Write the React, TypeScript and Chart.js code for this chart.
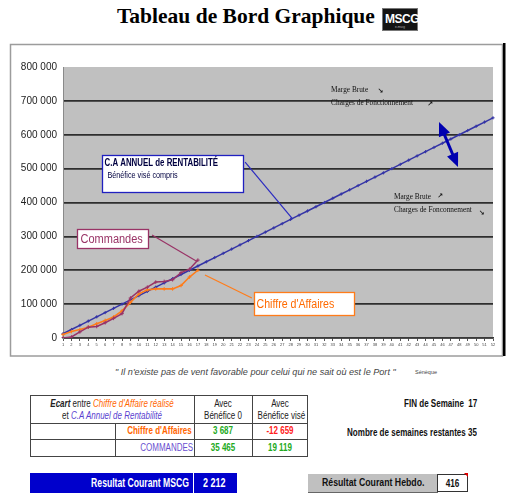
import React, { useEffect, useRef } from 'react';
import { Chart, registerables } from 'chart.js';

Chart.register(...registerables);

// ---------- data ----------
const weeks = ['1','2','3','4','5','6','7','8','9','10','11','12','13','14','15','16','17','18','19','20','21','22','23','24','25','26','27','28','29','30','31','32','33','34','35','36','37','38','39','40','41','42','43','44','45','46','47','48','49','50','51','52'];

const caAnnuelRentabilite = [12500, 25000, 37500, 50000, 62500, 75000, 87500, 100000, 112500, 125000, 137500, 150000, 162500, 175000, 187500, 200000, 212500, 225000, 237500, 250000, 262500, 275000, 287500, 300000, 312500, 325000, 337500, 350000, 362500, 375000, 387500, 400000, 412500, 425000, 437500, 450000, 462500, 475000, 487500, 500000, 512500, 525000, 537500, 550000, 562500, 575000, 587500, 600000, 612500, 625000, 637500, 650000];

const chiffreAffaires = [10000, 19000, 25000, 32000, 42000, 52000, 62000, 80000, 105000, 130000, 142000, 145000, 145000, 145000, 155000, 180000, 200000];

const commandes = [0, 3000, 18000, 32000, 34000, 45000, 58000, 72000, 118000, 138000, 150000, 165000, 167000, 172000, 193000, 203000, 230000];

const yTickLabels = ['0', '100 000', '200 000', '300 000', '400 000', '500 000', '600 000', '700 000', '800 000'];

const ecartCA = ['3 687', '-12 659'];
const ecartCommandes = ['35 465', '19 119'];
const finSemaine = '17';
const semainesRestantes = '35';
const resultatMSCG = '2 212';
const resultatHebdo = '416';

// ---------- fonts ----------
const SANS = '"Liberation Sans", Arial, sans-serif';
const SERIF = '"Liberation Serif", "Times New Roman", serif';

// ---------- plugins ----------
const framePlugin = {
  id: 'frame',
  beforeDraw(chart: any) {
    const { ctx, chartArea: a, width, height } = chart;
    ctx.save();
    ctx.fillStyle = '#ffffff';
    ctx.fillRect(0, 0, width, height);
    ctx.strokeStyle = '#9c9c9c';
    ctx.lineWidth = 1.5;
    ctx.strokeRect(2.5, 2.5, 492, 311.5);
    ctx.fillStyle = '#000000';
    ctx.fillRect(495, 1, 2.5, 313);
    ctx.fillStyle = '#c0c0c0';
    ctx.fillRect(a.left, a.top, a.right - a.left, a.bottom - a.top);
    ctx.restore();
  },
};

function arrowHead(ctx: any, x1: number, y1: number, x2: number, y2: number, len: number, w: number) {
  const ang = Math.atan2(y2 - y1, x2 - x1);
  ctx.beginPath();
  ctx.moveTo(x2, y2);
  ctx.lineTo(x2 - len * Math.cos(ang) + (w / 2) * Math.sin(ang), y2 - len * Math.sin(ang) - (w / 2) * Math.cos(ang));
  ctx.lineTo(x2 - len * Math.cos(ang) - (w / 2) * Math.sin(ang), y2 - len * Math.sin(ang) + (w / 2) * Math.cos(ang));
  ctx.closePath();
  ctx.fill();
}

const annotationPlugin = {
  id: 'annotations',
  afterDraw(chart: any) {
    const { ctx } = chart;
    const xs = chart.scales.x;
    const ys = chart.scales.y;
    const X = (w: number) => xs.getPixelForValue(w - 1);
    const Y = (v: number) => ys.getPixelForValue(v);
    ctx.save();

    const line = (w1: number, v1: number, w2: number, v2: number, color: string, lw: number) => {
      ctx.strokeStyle = color;
      ctx.lineWidth = lw;
      ctx.beginPath();
      ctx.moveTo(X(w1), Y(v1));
      ctx.lineTo(X(w2), Y(v2));
      ctx.stroke();
    };
    const box = (w1: number, w2: number, vTop: number, vBot: number, color: string) => {
      const x1 = Math.round(X(w1)) + 0.5, x2 = Math.round(X(w2)) + 0.5;
      const y1 = Math.round(Y(vTop)) + 0.5, y2 = Math.round(Y(vBot)) + 0.5;
      ctx.fillStyle = '#ffffff';
      ctx.fillRect(x1, y1, x2 - x1, y2 - y1);
      ctx.strokeStyle = color;
      ctx.lineWidth = 1.3;
      ctx.strokeRect(x1, y1, x2 - x1, y2 - y1);
      return { x1, x2, y1, y2 };
    };
    const sText = (s: string, x: number, y: number, font: string, color: string, sx: number) => {
      ctx.save();
      ctx.translate(x, y);
      ctx.scale(sx, 1);
      ctx.font = font;
      ctx.fillStyle = color;
      ctx.textAlign = 'left';
      ctx.textBaseline = 'middle';
      ctx.fillText(s, 0, 0);
      ctx.restore();
    };
    const text = (s: string, w: number, v: number, font: string, color: string, sx = 1) =>
      sText(s, X(w), Y(v), font, color, sx);

    // C.A annuel de rentabilité
    line(22.6, 519000, 28.2, 352500, '#2b2bc0', 1.2);
    const b1 = box(5.6, 22.35, 540000, 431000, '#2020c0');
    sText('C.A ANNUEL de RENTABILITÉ', b1.x1 + 2, b1.y1 + 8, `bold 10.5px ${SANS}`, '#000040', 0.75);
    sText('Bénéfice visé compris', b1.x1 + 5, b1.y1 + 20, `9.5px ${SANS}`, '#000040', 0.76);

    // Commandes
    line(11.56, 304000, 16.9, 226000, '#993366', 1.2);
    const b2 = box(2.66, 11.08, 321000, 265000, '#993366');
    sText('Commandes', b2.x1 + 3, (b2.y1 + b2.y2) / 2 + 0.5, `12.5px ${SANS}`, '#993366', 0.88);

    // Chiffre d'Affaires
    line(17.84, 186000, 23.4, 118000, '#ff7c1a', 1.2);
    const b3 = box(23.66, 35.5, 136000, 68000, '#ff7c1a');
    sText("Chiffre d'Affaires", b3.x1 + 2, (b3.y1 + b3.y2) / 2 + 0.5, `12.5px ${SANS}`, '#ff6a00', 0.85);

    // Marge brute / charges texts
    const f = `8.5px ${SERIF}`;
    text('Marge Brute', 32.8, 732000, f, '#111', 0.86);
    text('Charges de Fonctionnement', 32.8, 693500, f, '#111', 0.86);
    text('↘', 38.3, 729000, `bold 7px "DejaVu Sans"`, '#111');
    text('↗', 44.2, 689000, `bold 7px "DejaVu Sans"`, '#111');
    text('Marge Brute', 40.26, 416000, f, '#111', 0.86);
    text('Charges de Fonconnement', 40.26, 378000, f, '#111', 0.86);
    text('↗', 45.4, 419000, `bold 7px "DejaVu Sans"`, '#111');
    text('↘', 50.3, 369000, `bold 7px "DejaVu Sans"`, '#111');

    // double arrow
    const ax1 = X(45.6), ay1 = Y(637600), ax2 = X(47.85), ay2 = Y(504800);
    ctx.strokeStyle = '#0000b0';
    ctx.fillStyle = '#0000b0';
    ctx.lineWidth = 3;
    ctx.beginPath();
    ctx.moveTo(ax1 + (ax2 - ax1) * 0.15, ay1 + (ay2 - ay1) * 0.15);
    ctx.lineTo(ax1 + (ax2 - ax1) * 0.85, ay1 + (ay2 - ay1) * 0.85);
    ctx.stroke();
    arrowHead(ctx, ax2, ay2, ax1, ay1, 14, 12);
    arrowHead(ctx, ax1, ay1, ax2, ay2, 14, 12);

    ctx.restore();
  },
};

// ---------- chart ----------
function ChartCanvas() {
  const ref = useRef<HTMLCanvasElement | null>(null);
  useEffect(() => {
    if (!ref.current) return;
    const chart = new Chart(ref.current, {
      type: 'line',
      data: {
        labels: weeks,
        datasets: [
          {
            label: 'Commandes',
            data: commandes,
            borderColor: '#993366',
            backgroundColor: '#993366',
            borderWidth: 1.5,
            pointStyle: 'cross',
            pointRadius: 1.8,
            pointBorderWidth: 1,
            tension: 0,
            order: 1,
          },
          {
            label: "Chiffre d'Affaires",
            data: chiffreAffaires,
            borderColor: '#ff7c1a',
            backgroundColor: '#ff7c1a',
            borderWidth: 1.6,
            pointStyle: 'cross',
            pointRadius: 1.8,
            pointBorderWidth: 1,
            tension: 0,
            order: 2,
          },
          {
            label: 'C.A Annuel de Rentabilité',
            data: caAnnuelRentabilite,
            borderColor: '#3434a6',
            backgroundColor: '#3434a6',
            borderWidth: 1.5,
            pointStyle: 'cross',
            pointRadius: 1.6,
            pointBorderWidth: 1,
            tension: 0,
            order: 3,
          },
        ],
      },
      options: {
        animation: false,
        responsive: true,
        maintainAspectRatio: false,
        layout: { padding: { top: 25, right: 15, bottom: 0, left: 0 } },
        plugins: {
          legend: { display: false },
          tooltip: { enabled: false },
          title: { display: false },
        },
        scales: {
          x: {
            type: 'category',
            offset: false,
            grid: { display: true, drawOnChartArea: false, drawTicks: true, tickLength: 3, color: '#555' },
            border: { display: true, color: '#3a3a3a', width: 1.5 },
            ticks: {
              autoSkip: false,
              maxRotation: 0,
              minRotation: 0,
              padding: 1,
              color: '#444',
              font: { size: 4, family: SANS },
            },
            afterFit: (s: any) => { s.height = 22; },
          },
          y: {
            min: 0,
            max: 800000,
            ticks: {
              stepSize: 100000,
              padding: 6,
              color: '#222',
              font: { size: 10, family: SANS },
              callback: (v: any) => yTickLabels[Math.round(Number(v) / 100000)],
            },
            grid: {
              drawTicks: false,
              lineWidth: 1.7,
              color: (c: any) => (c.tick && c.tick.value === 800000 ? 'rgba(0,0,0,0)' : '#2e2e2e'),
            },
            border: { display: true, color: '#8a8a8a', width: 1 },
            afterFit: (s: any) => { s.width = 55; },
          },
        },
      },
      plugins: [framePlugin, annotationPlugin],
    } as any);
    return () => chart.destroy();
  }, []);
  return (
    <div style={{ position: 'absolute', left: 8, top: 42, width: 500, height: 318 }}>
      <canvas ref={ref} />
    </div>
  );
}

const abs = (o: any): React.CSSProperties => ({ position: 'absolute', whiteSpace: 'nowrap', lineHeight: 1, ...o });
// narrow text (Arial Narrow look): origin 'left' | 'right' | 'center'
const nar = (o: any, origin: string, sx = 0.8): React.CSSProperties =>
  abs({ fontFamily: SANS, transform: `scaleX(${sx})`, transformOrigin: `${origin} center`, ...o });

export default function App() {
  const cell = { position: 'absolute' as const, background: '#444' };
  return (
    <div style={{ position: 'absolute', left: 0, top: 0, width: 512, height: 497, background: '#fff', overflow: 'hidden', fontFamily: SANS }}>
      {/* title */}
      <div style={abs({ left: 117, top: 6, fontFamily: SERIF, fontWeight: 'bold', fontSize: 21.5, color: '#000' })}>
        Tableau de Bord Graphique
      </div>
      <div style={abs({ left: 382, top: 8, width: 36, height: 23, background: '#141414', border: '1px solid #777', boxSizing: 'border-box' })}>
        <div style={abs({ left: 2, top: 4, fontFamily: SANS, fontWeight: 'bold', fontSize: 12, color: '#fff', letterSpacing: -0.5 })}>MSCG</div>
        <div style={abs({ left: 12, top: 17, fontSize: 3, color: '#bbb' })}>e-mscg</div>
      </div>

      <ChartCanvas />

      {/* quote */}
      <div style={abs({ left: 115, top: 368, fontStyle: 'italic', fontSize: 9.1, color: '#444', fontFamily: SANS })}>
        " Il n'existe pas de vent favorable pour celui qui ne sait où est le Port "
      </div>
      <div style={abs({ left: 415, top: 370, fontSize: 5.5, color: '#444' })}>Sénèque</div>

      {/* table */}
      <div style={abs({ left: 30, top: 395, width: 278, height: 62, border: '1px solid #444', boxSizing: 'border-box' })} />
      <div style={{ ...cell, left: 30, top: 423, width: 278, height: 1 }} />
      <div style={{ ...cell, left: 30, top: 439, width: 278, height: 1 }} />
      <div style={{ ...cell, left: 194, top: 395, width: 1, height: 62 }} />
      <div style={{ ...cell, left: 252, top: 395, width: 1, height: 62 }} />
      <div style={{ ...cell, left: 115, top: 423, width: 1, height: 34 }} />

      <div style={nar({ left: 30, width: 164, top: 399, textAlign: 'center', fontSize: 10, color: '#222' }, 'center')}>
        <b><i>Ecart</i></b> entre <i style={{ color: '#ff6600' }}>Chiffre d'Affaire réalisé</i>
      </div>
      <div style={nar({ left: 30, width: 164, top: 411, textAlign: 'center', fontSize: 10, color: '#222' }, 'center')}>
        et <i style={{ color: '#5a3fd0' }}>C.A Annuel de Rentabilité</i>
      </div>
      <div style={nar({ left: 194, width: 58, top: 399, textAlign: 'center', fontSize: 10, color: '#222' }, 'center')}>Avec</div>
      <div style={nar({ left: 194, width: 58, top: 411, textAlign: 'center', fontSize: 10, color: '#222' }, 'center')}>Bénéfice 0</div>
      <div style={nar({ left: 252, width: 56, top: 399, textAlign: 'center', fontSize: 10, color: '#222' }, 'center')}>Avec</div>
      <div style={nar({ left: 252, width: 56, top: 411, textAlign: 'center', fontSize: 10, color: '#222' }, 'center')}>Bénéfice visé</div>

      <div style={nar({ right: 512 - 192, top: 426, fontSize: 10, fontWeight: 'bold', color: '#ff6600' }, 'right')}>Chiffre d'Affaires</div>
      <div style={nar({ left: 194, width: 58, top: 426, textAlign: 'center', fontSize: 10, fontWeight: 'bold', color: '#22aa22' }, 'center')}>{ecartCA[0]}</div>
      <div style={nar({ left: 252, width: 56, top: 426, textAlign: 'center', fontSize: 10, fontWeight: 'bold', color: '#ff2020' }, 'center')}>{ecartCA[1]}</div>

      <div style={nar({ right: 512 - 193, top: 443, fontSize: 10, color: '#6a4fd0' }, 'right')}>COMMANDES</div>
      <div style={nar({ left: 194, width: 58, top: 443, textAlign: 'center', fontSize: 10, fontWeight: 'bold', color: '#22aa22' }, 'center')}>{ecartCommandes[0]}</div>
      <div style={nar({ left: 252, width: 56, top: 443, textAlign: 'center', fontSize: 10, fontWeight: 'bold', color: '#22aa22' }, 'center')}>{ecartCommandes[1]}</div>

      {/* right info */}
      <div style={nar({ right: 512 - 477, top: 398, fontSize: 11, fontWeight: 'bold', color: '#111' }, 'right', 0.73)}>FIN de Semaine&nbsp;&nbsp;{finSemaine}</div>
      <div style={nar({ right: 512 - 477, top: 427, fontSize: 11, fontWeight: 'bold', color: '#111' }, 'right', 0.73)}>Nombre de semaines restantes {semainesRestantes}</div>

      {/* bottom blue bar */}
      <div style={abs({ left: 30, top: 473, width: 207, height: 20, background: '#0000cc' })} />
      <div style={abs({ left: 193, top: 473, width: 1, height: 20, background: '#ffffff' })} />
      <div style={nar({ right: 512 - 189, top: 477, fontSize: 12, fontWeight: 'bold', color: '#fff' }, 'right', 0.72)}>Resultat Courant MSCG</div>
      <div style={nar({ left: 203, top: 477, fontSize: 12, fontWeight: 'bold', color: '#fff' }, 'left', 0.75)}>{resultatMSCG}</div>

      {/* hebdo */}
      <div style={abs({ left: 308, top: 474, width: 130, height: 19, background: '#c0c0c0', borderRight: '1px solid #666', borderBottom: '1px solid #666', boxSizing: 'border-box' })} />
      <div style={nar({ left: 322, top: 477, fontSize: 11.5, fontWeight: 'bold', color: '#111' }, 'left', 0.76)}>Résultat Courant Hebdo.</div>
      <div style={abs({ left: 437, top: 474, width: 31, height: 18, background: '#fff', border: '1px solid #333', boxSizing: 'border-box' })} />
      <div style={nar({ left: 437, width: 31, top: 478, textAlign: 'center', fontSize: 10.5, fontWeight: 'bold', color: '#111' }, 'center', 0.78)}>{resultatHebdo}</div>
      <div style={abs({ left: 464, top: 473, width: 0, height: 0, borderLeft: '4px solid transparent', borderTop: '4px solid #e00000' })} />
    </div>
  );
}
